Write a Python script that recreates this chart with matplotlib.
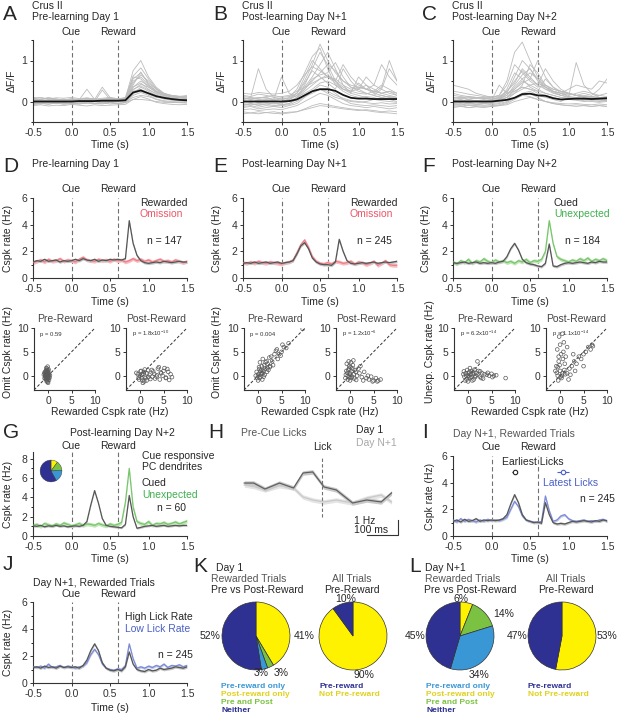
import numpy as np
import matplotlib
matplotlib.use("Agg")
import matplotlib.pyplot as plt

plt.rcParams['font.family'] = ['Liberation Sans', 'DejaVu Sans']
plt.rcParams['mathtext.default'] = 'regular'
plt.rcParams['axes.unicode_minus'] = False

# ======================= DATA =======================
time_ticks = [-0.5, 0.0, 0.5, 1.0, 1.5]
time_ticklabels = ['-0.5', '0.0', '0.5', '1.0', '1.5']
event_times = [0.0, 0.6]
event_names = ['Cue', 'Reward']

t_dff = np.arange(21) * 0.1 - 0.5      # 100 ms samples
t_cspk = np.arange(41) * 0.05 - 0.5    # 50 ms bins

# --- A: Crus II, pre-learning day 1 (dF/F of individual dendrites + mean)
dff_A_traces = [
    [0.05,0.02,0.00,0.03,0.01,0.00,0.02,0.01,0.03,0.02,0.00,0.01,0.05,0.55,0.70,0.45,0.30,0.20,0.15,0.12,0.10],
    [-0.05,-0.03,0.00,-0.02,0.01,-0.03,0.00,-0.02,0.00,-0.01,0.02,0.00,0.03,0.35,0.45,0.30,0.18,0.12,0.08,0.05,0.04],
    [0.10,0.08,0.05,0.06,0.03,0.05,0.04,0.30,0.05,0.03,0.06,0.04,0.08,0.75,1.00,0.60,0.35,0.20,0.12,0.10,0.08],
    [0.00,0.03,-0.02,0.00,0.02,0.00,-0.01,0.02,0.00,0.28,0.05,0.02,0.02,0.25,0.30,0.20,0.12,0.06,0.03,0.02,0.01],
    [-0.08,-0.05,-0.06,-0.04,-0.07,-0.05,-0.06,-0.04,-0.05,-0.06,-0.03,-0.05,-0.02,0.10,0.15,0.12,0.05,0.00,-0.02,-0.03,-0.04],
    [0.03,0.05,0.08,0.04,0.06,0.03,0.05,0.07,0.04,0.06,0.08,0.05,0.10,0.60,0.55,0.35,0.22,0.15,0.12,0.10,0.08],
    [-0.02,0.00,0.02,0.00,-0.02,0.01,0.00,-0.01,0.02,0.00,-0.02,0.00,0.02,0.45,0.65,0.50,0.30,0.18,0.10,0.06,0.05],
    [0.06,0.04,0.02,0.05,0.03,0.06,0.04,0.02,0.05,0.35,0.10,0.04,0.05,0.20,0.25,0.18,0.10,0.08,0.07,0.05,0.06],
    [-0.04,-0.06,-0.02,-0.05,-0.03,-0.06,-0.04,-0.02,-0.05,-0.03,-0.06,-0.04,-0.03,0.05,0.05,0.03,0.00,-0.02,-0.03,-0.02,-0.03],
    [0.02,-0.01,0.03,0.01,0.04,0.02,0.00,0.03,0.01,0.02,0.04,0.02,0.04,0.40,0.72,0.42,0.25,0.16,0.12,0.10,0.12],
    [0.08,0.05,0.10,0.06,0.04,0.07,0.05,0.08,0.06,0.04,0.07,0.06,0.08,0.30,0.38,0.28,0.20,0.15,0.14,0.12,0.15],
    [-0.06,-0.04,-0.07,-0.03,-0.05,-0.04,-0.06,-0.03,-0.05,-0.04,-0.02,-0.05,-0.03,0.15,0.22,0.15,0.06,0.02,0.00,-0.01,0.00],
    [0.00,0.02,0.00,0.01,-0.01,0.02,0.01,0.00,0.02,0.01,0.00,0.02,0.06,0.50,0.60,0.40,0.25,0.14,0.08,0.06,0.05],
    [0.04,0.01,0.04,0.02,0.05,0.01,0.03,0.05,0.02,0.04,0.01,0.03,0.04,0.28,0.42,0.35,0.24,0.18,0.12,0.09,0.07],
    [0.07,0.10,0.06,0.09,0.08,0.10,0.07,0.09,0.06,0.08,0.10,0.07,0.09,0.35,0.50,0.38,0.26,0.19,0.15,0.13,0.12],
    [-0.10,-0.08,-0.11,-0.09,-0.10,-0.07,-0.09,-0.11,-0.08,-0.10,-0.09,-0.08,-0.07,0.05,0.12,0.06,-0.02,-0.05,-0.07,-0.08,-0.07],
    [0.01,0.04,0.02,0.06,0.03,0.05,0.02,0.04,0.06,0.03,0.05,0.04,0.07,0.62,0.82,0.55,0.32,0.20,0.13,0.09,0.07],
    [-0.03,-0.01,-0.04,-0.02,-0.03,0.00,-0.02,-0.04,-0.01,-0.03,-0.02,-0.01,0.00,0.18,0.35,0.25,0.15,0.09,0.05,0.03,0.02],
]
dff_A_mean = [0.00,0.00,0.00,0.00,0.00,0.00,0.01,0.01,0.01,0.02,0.02,0.02,0.03,0.22,0.27,0.20,0.13,0.09,0.06,0.04,0.03]

# --- B: Crus II, post-learning day N+1
dff_B_traces = [
    [0.05,0.10,0.80,0.30,0.10,0.05,0.08,0.20,0.50,0.90,1.40,1.00,0.70,0.50,0.40,0.35,0.30,0.40,0.90,0.60,0.40],
    [-0.10,-0.05,-0.08,-0.06,-0.10,-0.08,-0.05,0.10,0.40,0.80,1.20,0.90,0.50,0.30,0.20,0.15,0.10,0.05,0.10,0.05,0.00],
    [0.10,0.05,0.08,0.10,0.05,0.60,0.20,0.10,0.30,0.50,0.70,0.90,0.75,0.50,0.35,0.30,0.40,0.30,0.20,0.25,0.15],
    [-0.25,-0.28,-0.25,-0.27,-0.25,-0.28,-0.26,-0.25,-0.20,-0.15,-0.10,-0.12,-0.15,-0.18,-0.20,-0.22,-0.20,-0.22,-0.25,-0.23,-0.25],
    [0.00,-0.02,0.02,0.00,0.03,0.00,0.05,0.20,0.60,1.00,0.80,0.60,0.50,0.90,0.60,0.40,0.30,0.25,0.20,0.15,0.10],
    [0.15,0.12,0.18,0.15,0.10,0.12,0.15,0.25,0.35,0.45,0.55,0.60,0.45,0.30,0.25,0.30,0.60,0.40,0.30,0.80,0.50],
    [-0.15,-0.12,-0.18,-0.15,-0.12,-0.15,-0.10,-0.05,0.10,0.25,0.40,0.35,0.20,0.05,-0.05,-0.08,-0.10,-0.08,-0.10,-0.12,-0.10],
    [0.05,0.08,0.05,0.02,0.06,0.04,0.10,0.30,0.70,1.10,1.30,0.80,0.40,0.25,0.15,0.10,0.12,0.10,0.15,0.10,0.08],
    [-0.05,-0.08,-0.05,-0.03,-0.06,-0.04,0.00,0.10,0.20,0.30,0.45,0.50,0.40,0.30,0.25,0.45,0.30,0.20,0.35,1.00,0.50],
    [0.08,0.05,0.10,0.08,0.05,0.08,0.05,0.15,0.30,0.55,0.65,0.70,0.95,0.60,0.35,0.25,0.20,0.15,0.10,0.12,0.10],
    [-0.20,-0.18,-0.22,-0.20,-0.18,-0.20,-0.15,-0.10,0.00,0.10,0.20,0.15,0.05,-0.05,-0.10,-0.12,-0.15,-0.12,-0.15,-0.18,-0.15],
    [0.02,0.00,0.03,0.05,0.02,0.00,0.05,0.15,0.35,0.60,0.90,1.20,0.80,0.40,0.20,0.60,0.40,0.20,0.15,0.10,0.05],
    [-0.08,-0.05,-0.10,-0.06,-0.04,-0.08,-0.05,0.05,0.15,0.25,0.30,0.20,0.10,0.05,0.00,-0.02,0.00,0.05,0.02,0.00,-0.02],
    [0.12,0.10,0.08,0.12,0.15,0.10,0.12,0.20,0.45,0.75,0.60,0.45,0.30,0.80,0.50,0.30,0.20,0.15,0.30,0.20,0.15],
    [-0.30,-0.28,-0.30,-0.27,-0.29,-0.30,-0.28,-0.25,-0.18,-0.10,-0.05,-0.08,-0.12,-0.15,-0.18,-0.20,-0.22,-0.25,-0.27,-0.28,-0.30],
    [0.20,0.18,0.22,0.20,0.18,0.20,0.25,0.40,0.65,0.85,0.75,0.60,0.55,0.40,0.30,0.35,0.30,0.25,0.20,0.25,0.20],
    [-0.02,0.02,-0.03,0.00,0.02,-0.02,0.02,0.08,0.25,0.40,0.55,0.65,0.50,0.35,0.25,0.20,0.18,0.25,0.40,0.30,0.20],
    [-0.12,-0.10,-0.14,-0.10,-0.12,-0.10,-0.08,0.00,0.12,0.20,0.30,0.25,0.15,0.08,0.02,0.00,-0.03,-0.05,-0.03,-0.06,-0.05],
]
dff_B_mean = [0.00,0.00,0.00,0.00,0.00,0.00,0.01,0.05,0.15,0.25,0.30,0.30,0.26,0.16,0.09,0.07,0.07,0.06,0.06,0.06,0.06]

# --- C: Crus II, post-learning day N+2
dff_C_traces = [
    [0.40,0.35,0.30,0.20,0.15,0.10,0.15,0.50,1.20,1.45,1.00,0.60,0.40,0.30,0.25,0.20,0.15,0.12,0.10,0.10,0.08],
    [0.00,-0.02,0.02,0.00,-0.03,0.00,0.05,0.20,0.60,1.00,0.80,0.50,0.30,0.20,0.15,0.20,0.15,0.10,0.08,0.05,0.05],
    [-0.05,-0.08,-0.05,-0.07,-0.05,-0.08,-0.05,0.00,0.10,0.20,0.25,0.15,0.10,0.05,0.00,0.10,0.95,0.40,0.20,0.10,0.05],
    [0.10,0.08,0.12,0.10,0.08,0.10,0.15,0.40,0.90,0.70,0.50,0.35,0.40,0.30,0.25,0.20,0.15,0.20,0.15,0.30,0.55],
    [-0.12,-0.10,-0.15,-0.12,-0.10,-0.12,-0.10,-0.05,0.05,0.15,0.20,0.10,0.00,-0.05,-0.08,-0.10,-0.08,-0.10,-0.12,-0.10,-0.12],
    [0.05,0.08,0.05,0.10,0.08,0.05,0.10,0.25,0.45,0.80,0.60,0.40,0.80,0.50,0.30,0.20,0.15,0.10,0.12,0.10,0.08],
    [0.20,0.15,0.12,0.10,0.08,0.05,0.08,0.15,0.35,0.55,0.70,0.55,0.35,0.25,0.20,0.15,0.20,0.25,0.20,0.15,0.20],
    [-0.02,0.00,-0.03,0.00,0.02,0.00,0.02,0.10,0.30,0.50,0.40,0.30,0.20,0.15,0.10,0.08,0.06,0.05,0.08,0.05,0.03],
    [0.02,0.05,0.00,0.03,0.00,0.02,0.40,0.20,0.25,0.35,0.30,0.20,0.15,0.10,0.05,0.05,0.03,0.00,0.02,0.00,0.02],
    [-0.08,-0.05,-0.10,-0.08,-0.06,-0.05,-0.03,0.05,0.20,0.40,0.90,0.70,0.40,0.25,0.15,0.10,0.05,0.02,0.00,-0.02,0.00],
    [0.08,0.10,0.06,0.08,0.05,0.08,0.06,0.10,0.20,0.30,0.40,0.45,0.35,0.25,0.20,0.30,0.40,0.35,0.30,0.50,0.45],
    [-0.15,-0.12,-0.15,-0.13,-0.15,-0.12,-0.10,-0.08,0.00,0.05,0.10,0.05,0.00,-0.05,-0.08,-0.10,-0.12,-0.10,-0.12,-0.10,-0.12],
    [0.03,0.00,0.05,0.02,0.00,0.03,0.05,0.30,0.70,0.55,0.35,0.25,0.20,0.15,0.10,0.08,0.10,0.08,0.06,0.05,0.04],
    [0.15,0.12,0.10,0.08,0.10,0.12,0.10,0.20,0.30,0.45,0.55,1.00,0.60,0.35,0.25,0.20,0.15,0.12,0.10,0.08,0.10],
    [-0.10,-0.12,-0.08,-0.10,-0.12,-0.10,-0.08,-0.02,0.08,0.15,0.12,0.05,0.00,-0.03,-0.05,-0.06,-0.05,-0.07,-0.08,-0.06,-0.08],
    [0.25,0.22,0.18,0.15,0.12,0.10,0.12,0.25,0.50,0.75,0.55,0.40,0.30,0.25,0.20,0.18,0.15,0.15,0.12,0.15,0.12],
    [0.00,0.03,-0.02,0.02,0.00,0.02,0.05,0.15,0.40,0.65,0.80,0.55,0.35,0.22,0.15,0.12,0.10,0.12,0.10,0.08,0.06],
    [-0.05,-0.03,-0.06,-0.04,-0.05,-0.03,0.00,0.10,0.25,0.35,0.30,0.25,0.55,0.35,0.20,0.12,0.08,0.05,0.04,0.03,0.02],
]
dff_C_mean = [0.00,0.00,0.00,0.00,0.00,0.00,0.02,0.04,0.09,0.18,0.19,0.15,0.14,0.08,0.05,0.06,0.07,0.07,0.06,0.07,0.08]

# --- Cspk rates (Hz), 50 ms bins
D_rewarded = [1.20,1.30,1.25,1.40,1.25,1.30,1.35,1.20,1.30,1.25,
              1.30,1.40,1.30,1.45,1.35,1.30,1.40,1.25,1.35,1.30,
              1.40,1.35,1.40,1.35,1.45,4.30,2.60,1.70,1.30,1.15,
              1.10,1.15,1.20,1.15,1.25,1.20,1.15,1.20,1.25,1.20,1.20]
D_omission = [1.15,1.25,1.35,1.20,1.40,1.25,1.30,1.45,1.25,1.35,
              1.30,1.20,1.40,1.55,1.35,1.30,1.25,1.40,1.30,1.35,
              1.25,1.40,1.30,1.35,1.20,1.30,1.45,1.30,1.40,1.25,
              1.35,1.20,1.30,1.40,1.25,1.30,1.20,1.35,1.25,1.15,1.25]
E_rewarded = [1.10,1.15,1.10,1.20,1.10,1.15,1.20,1.10,1.15,1.20,
              1.10,1.15,1.20,1.30,1.80,2.40,2.65,2.20,1.50,1.20,
              1.05,1.00,1.00,0.95,1.20,2.90,2.00,1.30,1.10,1.05,
              1.10,1.15,1.10,1.15,1.20,1.10,1.15,1.20,1.15,1.20,1.25]
E_omission = [1.15,1.10,1.20,1.10,1.25,1.15,1.10,1.20,1.15,1.10,
              1.05,1.15,1.20,1.35,1.90,2.50,2.85,2.30,1.60,1.25,
              1.10,1.05,1.15,1.05,1.25,1.20,1.10,1.15,1.25,1.05,
              1.20,1.15,1.00,1.10,1.25,0.95,1.10,1.30,1.00,0.95,0.95]
F_cued = [1.15,1.10,1.15,1.20,1.10,1.15,1.20,1.10,1.15,1.10,
          1.15,1.10,1.20,1.25,1.60,2.20,2.60,2.10,1.40,1.15,
          1.05,1.00,0.90,0.85,1.10,2.55,0.90,0.85,1.00,1.10,
          1.15,1.10,1.15,1.20,1.15,1.10,1.20,1.15,1.25,1.20,1.20]
F_unexpected = [1.20,1.05,1.30,1.15,1.40,1.10,1.30,1.20,1.45,1.25,
                1.15,1.35,1.20,1.30,1.15,1.25,1.10,1.30,1.20,1.40,
                1.15,1.30,1.25,1.40,2.00,4.30,2.60,1.60,1.40,1.30,
                1.20,1.35,1.25,1.45,1.30,1.50,1.25,1.40,1.30,1.45,1.30]
G_cued = [1.05,1.00,1.10,0.95,1.05,1.00,1.10,1.00,1.05,0.95,
          1.00,1.05,1.00,1.10,1.50,3.20,4.70,3.40,1.80,1.10,
          1.00,0.95,0.90,0.85,1.20,4.20,2.00,0.80,0.90,1.00,
          1.05,1.10,1.00,1.05,1.10,1.00,1.05,1.10,1.05,1.10,1.10]
G_unexpected = [1.10,1.20,1.00,1.30,1.15,1.05,1.25,1.10,1.35,1.20,
                1.05,1.15,1.30,1.10,1.25,1.20,1.10,1.30,1.15,1.05,
                1.25,1.10,1.20,1.40,3.50,7.00,3.00,1.50,1.30,1.20,
                1.50,1.10,1.30,1.25,1.40,1.20,1.30,1.45,1.25,1.40,1.55]
I_earliest = [1.10,1.20,1.05,1.25,1.10,1.15,1.30,1.10,1.20,1.15,
              1.20,1.15,1.20,1.30,1.60,2.40,3.10,2.50,1.60,1.20,
              1.10,1.00,1.05,0.95,2.50,1.60,1.00,0.90,0.95,0.90,
              1.00,1.10,1.05,1.10,1.15,1.10,1.05,1.15,1.10,1.20,1.15]
I_latest = [1.20,1.05,1.30,1.10,1.25,1.15,1.05,1.20,1.10,1.25,
            1.15,1.20,1.15,1.25,1.40,2.00,2.60,2.20,1.50,1.20,
            1.10,1.05,1.00,1.10,3.00,1.90,1.10,1.20,1.50,1.60,
            1.30,1.15,1.10,1.15,1.20,1.10,1.15,1.10,1.20,1.25,1.10]
J_high_lick = [1.15,1.20,1.10,1.25,1.15,1.20,1.10,1.25,1.15,1.20,
               1.15,1.20,1.10,1.30,1.70,2.40,2.90,2.40,1.50,1.10,
               0.95,0.90,1.00,0.90,1.20,2.30,1.40,1.00,0.90,0.85,
               1.00,0.90,0.95,1.10,1.00,1.05,1.10,1.20,1.15,1.10,1.20]
J_low_lick = [1.20,1.15,1.25,1.10,1.40,1.15,1.20,1.30,1.15,1.25,
              1.20,1.10,1.20,1.25,1.50,2.10,2.50,2.10,1.40,1.10,
              1.00,0.95,1.05,1.00,1.30,2.90,1.80,1.10,1.20,1.10,
              1.25,1.15,1.30,1.20,1.40,1.15,1.30,1.25,1.35,1.20,1.30]
sem_gray = 0.10
sem_color = 0.14

# --- I: mean lick times (s) +- spread
lick_earliest, lick_earliest_err = 0.30, 0.03
lick_latest, lick_latest_err = 0.93, 0.08
lick_marker_rate = 4.8

# --- H: pre-cue licks, lick-triggered Cspk rate (ms, Hz)
h_time_ms = [-248, -218, -182, -136, -91, -61, -30, 6, 45, 97, 142, 188, 221]
h_day1 = [3.53, 3.53, 3.13, 3.53, 3.20, 4.20, 4.27, 3.27, 3.07, 2.20, 2.40, 2.27, 2.87]
h_dayN1 = [3.40, 3.30, 3.07, 3.35, 3.20, 2.60, 2.40, 2.27, 2.40, 2.20, 2.53, 2.73, 2.27]
h_sem = 0.15
scale_hz = 1.0
scale_ms = 100

# --- scatter points (Rewarded rate, Omitted/Unexpected rate), Hz
sc_A_pre = [(-0.5,0.0),(-0.2,0.5),(0.0,-0.3),(-0.4,1.0),(-0.1,-0.8),(-0.6,0.3),(0.2,0.2),(-0.3,-1.2),(-0.8,0.6),(0.1,-0.5),
            (-0.2,1.5),(-0.5,-0.2),(0.0,0.8),(-0.3,0.1),(-0.7,-0.6),(0.3,-0.4),(-0.1,1.9),(-0.4,0.4),(-0.2,-1.0),(0.1,0.6),
            (-0.6,-0.1),(-0.3,1.2),(0.0,-1.5),(-0.5,0.7),(-0.1,0.2),(-0.4,-0.7),(0.2,-0.9),(-0.2,0.0),(-0.9,0.2),(0.0,1.1),
            (-0.3,-0.4),(-0.6,0.9),(0.1,0.3),(-0.2,-0.3),(-0.4,1.6),(0.4,0.1),(-0.1,-1.3),(-0.5,0.5),(-0.3,0.3),(0.0,-0.1),
            (-0.2,0.8),(-0.7,-0.5),(0.1,1.3),(-0.4,0.0),(-0.1,-0.2)]
sc_A_post = [(0.0,0.0),(0.3,-0.5),(-0.5,0.3),(0.8,0.8),(1.0,-0.2),(0.5,-1.0),(-0.2,-0.8),(1.5,0.5),(0.2,1.0),(1.2,-0.5),
             (2.0,0.2),(0.6,-1.5),(-0.8,0.6),(1.8,-0.3),(2.5,1.2),(3.0,0.4),(0.4,0.2),(1.0,1.3),(3.5,-0.2),(4.0,1.8),
             (2.2,-0.7),(4.5,0.5),(5.0,1.0),(5.5,-0.5),(6.0,0.8),(6.5,0.3),(4.2,-0.8),(3.8,1.5),(5.2,1.6),(6.8,-0.3),
             (2.8,0.9),(1.4,-1.0),(0.9,-1.2),(-0.3,-0.4),(0.1,0.9),(3.2,-0.6),(4.8,0.0),(5.8,1.4),(6.2,-0.9),(2.6,-0.2),
             (1.7,1.1),(0.7,0.4),(4.4,0.7),(3.6,0.1),(5.5,-0.4)]
sc_E_pre = [(0.0,0.0),(0.5,1.0),(1.0,0.5),(0.3,-0.5),(0.8,2.0),(1.5,1.5),(-0.3,0.8),(0.2,1.8),(1.2,-0.2),(2.0,2.5),
            (0.6,0.3),(1.8,3.0),(2.5,1.8),(0.0,-1.0),(0.4,2.8),(1.0,3.5),(3.0,3.0),(2.2,1.2),(0.7,1.2),(1.4,0.2),
            (3.5,4.5),(2.8,4.0),(4.0,5.5),(4.5,4.5),(5.0,5.0),(3.2,2.2),(1.6,2.8),(0.9,-0.8),(0.1,0.4),(-0.5,0.0),
            (2.4,3.8),(4.2,3.5),(5.5,6.0),(6.0,5.8),(9.5,9.8),(5.2,6.5),(3.8,5.2),(1.1,1.0),(0.5,-0.3),(2.6,2.0),
            (1.9,0.8),(0.3,1.4),(1.3,2.2),(6.5,6.8),(4.8,4.2),(0.8,0.5),(2.0,1.6),(-0.2,-0.5)]
sc_E_post = [(-0.5,0.0),(0.0,0.5),(-0.8,1.0),(0.3,-0.5),(-0.2,2.0),(0.5,1.5),(-1.0,-0.5),(0.2,2.8),(-0.4,1.2),(0.8,0.3),
             (0.0,-1.0),(-0.6,0.6),(1.2,0.8),(0.4,-0.2),(-0.3,3.0),(0.6,2.2),(1.5,0.0),(-0.9,0.2),(0.1,1.8),(0.9,-0.6),
             (2.0,0.5),(2.5,-0.3),(3.0,0.8),(1.8,1.5),(3.5,-0.5),(4.0,-0.8),(4.5,-0.2),(5.0,-1.0),(5.5,-0.5),(6.0,-1.0),
             (6.5,-0.8),(4.8,-1.2),(3.8,0.0),(2.8,-1.0),(0.7,3.2),(-0.7,2.5),(1.0,1.2),(-0.1,-0.3),(0.3,0.9),(-0.5,-0.8),
             (1.3,-0.9),(2.2,2.0),(0.0,0.2),(-0.2,1.5),(5.8,-1.2)]
sc_F_pre = [(0.0,0.0),(-0.5,0.5),(0.5,-0.5),(1.0,0.3),(-0.8,-0.2),(0.3,0.8),(1.5,-0.3),(-0.3,-0.8),(0.8,1.0),(2.0,0.2),
            (-1.0,0.3),(0.2,-0.3),(1.2,-0.8),(0.6,0.4),(-0.2,1.2),(1.8,0.6),(2.5,-0.2),(3.0,0.5),(2.8,-0.5),(3.5,0.3),
            (4.0,0.2),(4.5,0.0),(5.0,0.4),(5.5,0.0),(6.0,0.1),(8.0,-0.5),(2.0,3.0),(0.4,1.6),(-0.6,-1.0),(1.4,1.3),
            (0.9,-1.0),(2.2,1.0),(-0.4,0.0),(0.1,0.6),(1.6,0.0),(0.7,-0.2),(3.2,-0.6),(2.6,0.9),(-0.9,0.9),(0.0,-1.2),
            (1.1,0.7),(4.2,0.6),(5.2,-0.3)]
sc_F_post = [(-0.5,0.0),(0.0,1.0),(-0.8,2.0),(0.5,0.5),(-0.3,3.0),(0.2,4.5),(-0.6,5.5),(0.0,6.5),(-0.2,8.2),(0.5,8.8),
             (0.8,7.0),(-1.0,1.0),(1.0,2.5),(0.3,-0.5),(-0.4,-1.0),(1.5,0.5),(2.0,1.5),(0.6,3.5),(-0.1,2.2),(1.2,4.0),
             (2.5,2.0),(3.0,3.0),(3.5,2.5),(4.0,4.0),(5.0,4.5),(5.5,5.0),(6.0,6.0),(6.5,5.5),(7.0,6.2),(5.0,2.0),
             (4.5,3.5),(0.4,0.0),(-0.7,0.6),(1.8,-0.8),(0.9,1.2),(2.2,0.2),(-0.3,4.0),(0.7,5.0),(1.5,6.0),(3.2,1.0),
             (0.1,-0.2),(-0.5,1.8),(1.1,0.3),(6.8,6.5),(2.8,4.5)]
p_texts = ['p = 0.59', 'p = 1.8x10$^{-10}$', 'p = 0.004', 'p = 1.2x10$^{-6}$',
           'p = 6.2x10$^{-14}$', 'p = 1.1x10$^{-14}$']

# --- pies: order = Post-reward only, Pre and Post, Pre-reward only, Neither
G_inset_frac = [10, 14, 18, 58]
K_rewarded_pct = [41, 3, 3, 52]
K_all_pct = [90, 10]            # Not Pre-reward, Pre-reward
L_rewarded_pct = [6, 14, 34, 45]
L_all_pct = [53, 47]

# ======================= STYLE =======================
W, H = 617, 716
FS = 7.5
TXT = '#262626'
DASH = (0, (4, 2.5))
C_GRAY, B_GRAY = '#555555', '#c4c4c4'
C_PINK, B_PINK, T_PINK = '#ee7c86', '#f7bcc0', '#ec5566'
C_GRN, B_GRN, T_GRN = '#77c66c', '#c2e6b8', '#3fb04e'
C_BLU, B_BLU, T_BLU = '#7b8bd6', '#c3cbef', '#4a60c4'
P_YEL, P_GRN, P_BLU, P_NAV = '#fff200', '#7cc242', '#3a97d6', '#2e3192'
pie4_colors = [P_YEL, P_GRN, P_BLU, P_NAV]
pie2_colors = [P_YEL, P_NAV]

fig = plt.figure(figsize=(W / 100, H / 100), dpi=100)


def pax(l, t, r, b):
    return fig.add_axes([l / W, 1 - b / H, (r - l) / W, (b - t) / H])


def ftext(x, y, s, **kw):
    kw.setdefault('fontsize', FS)
    kw.setdefault('va', 'center')
    kw.setdefault('color', TXT)
    return fig.text(x / W, 1 - y / H, s, **kw)


def style(ax):
    for s in ['top', 'right']:
        ax.spines[s].set_visible(False)
    for s in ['left', 'bottom']:
        ax.spines[s].set_linewidth(0.8)
        ax.spines[s].set_color('#333333')
    ax.tick_params(length=2.5, width=0.7, pad=1.5, labelsize=FS, colors='#333333')
    ax.tick_params(which='minor', length=1.5, width=0.6)


def time_axes(l, t, r, b, ylim, yticks, yminor, label_off=8):
    ax = pax(l, t, r, b)
    ax.set_xlim(-0.5, 1.5)
    ax.set_ylim(*ylim)
    ax.set_xticks(time_ticks)
    ax.set_xticklabels(time_ticklabels)
    ax.set_yticks(yticks)
    ax.set_yticks(yminor, minor=True)
    for x, s in zip(event_times, event_names):
        ax.axvline(x, color='#707070', lw=0.8, ls=DASH, zorder=1)
        ax.annotate(s, xy=(x, 1), xycoords=('data', 'axes fraction'), xytext=(0, label_off),
                    textcoords='offset pixels', ha='center', va='center', fontsize=FS, color=TXT)
    style(ax)
    return ax


def band(ax, y, sem, lc, bc, lw=0.9):
    y = np.asarray(y)
    ax.fill_between(t_cspk, y - sem, y + sem, color=bc, lw=0, zorder=2)
    ax.plot(t_cspk, y, color=lc, lw=lw, zorder=3)


col_left = [33, 243, 453]
col_w = 154
letter_x = [3, 213, 422]

# ---------------- Row 1: A, B, C ----------------
row1_titles = ['Pre-learning Day 1', 'Post-learning Day N+1', 'Post-learning Day N+2']
row1_data = [(dff_A_traces, dff_A_mean), (dff_B_traces, dff_B_mean), (dff_C_traces, dff_C_mean)]
ylab1_x = [12, 222, 432]
for k, (traces, mean) in enumerate(row1_data):
    l = col_left[k]
    ax = time_axes(l, 40, l + col_w, 122, (-0.5, 1.5), [0, 1], [-0.5, 0.5, 1.5])
    for tr in traces:
        ax.plot(t_dff, tr, color='#bcbcbc', lw=0.6, zorder=2)
    ax.plot(t_dff, mean, color='#151515', lw=1.3, zorder=4)
    ftext(letter_x[k], 15, 'ABC'[k], fontsize=15, ha='left')
    ftext(l - 1, 6, 'Crus II', ha='left')
    ftext(l - 1, 17, row1_titles[k], ha='left')
    ftext(l + col_w / 2, 145, 'Time (s)', ha='center')
    ftext(ylab1_x[k], 81, 'ΔF/F', ha='center', rotation=90)

# ---------------- Row 2: D, E, F ----------------
row2_series = [
    [(D_omission, sem_color, C_PINK, B_PINK), (D_rewarded, sem_gray, C_GRAY, B_GRAY)],
    [(E_omission, sem_color, C_PINK, B_PINK), (E_rewarded, sem_gray, C_GRAY, B_GRAY)],
    [(F_unexpected, sem_color, C_GRN, B_GRN), (F_cued, sem_gray, C_GRAY, B_GRAY)],
]
row2_leg = [('Rewarded', 'Omission', T_PINK, 'n = 147'),
            ('Rewarded', 'Omission', T_PINK, 'n = 245'),
            ('Cued', 'Unexpected', T_GRN, 'n = 184')]
row2_leg_x = [140, 350, 554]
ylab2_x = [8, 217, 426]
for k in range(3):
    l = col_left[k]
    ax = time_axes(l, 198, l + col_w, 278, (0, 6), [0, 2, 4, 6], [1, 3, 5], label_off=9)
    for s in row2_series[k]:
        band(ax, *s)
    ftext(letter_x[k], 166, 'DEF'[k], fontsize=15, ha='left')
    ftext(l - 1, 164, row1_titles[k], ha='left')
    ftext(l + col_w / 2, 302, 'Time (s)', ha='center')
    ftext(ylab2_x[k], 238, 'Cspk rate (Hz)', ha='center', rotation=90)
    a, b, c, n = row2_leg[k]
    ftext(row2_leg_x[k], 203, a, ha='left')
    ftext(row2_leg_x[k], 214, b, ha='left', color=c)
    ftext(row2_leg_x[k] + 7 + (4 if k == 2 else 0), 241, n, ha='left')

# ---------------- Row 3: scatters ----------------
sc_sets = [(sc_A_pre, sc_A_post), (sc_E_pre, sc_E_post), (sc_F_pre, sc_F_post)]
sc_ylabels = ['Omit Cspk rate (Hz)', 'Omit Cspk rate (Hz)', 'Unexp. Cspk rate (Hz)']
sc_ylab_x = [8, 217, 430]
pi = 0
for k in range(3):
    l = col_left[k] + 1
    for j, pts in enumerate(sc_sets[k]):
        x0 = l + j * 92
        ax = pax(x0, 328, x0 + 61, 390)
        xs, ys = zip(*pts)
        ax.axline((0, 0), slope=1, ls=(0, (3, 2)), color='#333333', lw=0.7, zorder=1)
        ax.scatter(xs, ys, s=7, facecolors='none', edgecolors='#5a5a5a', linewidths=0.5, zorder=2)
        ax.set_xlim(-3, 10)
        ax.set_ylim(-3, 10)
        ax.set_xticks([0, 5, 10])
        ax.set_yticks([0, 5, 10])
        style(ax)
        ax.text(0.1, 0.9, p_texts[pi], transform=ax.transAxes, fontsize=4.3, color='#333333',
                va='center', ha='left')
        pi += 1
        ftext(x0 + 30.5, 319, ['Pre-Reward', 'Post-Reward'][j], ha='center', color='#444444')
    ftext(col_left[k] + col_w / 2, 412, 'Rewarded Cspk rate (Hz)', ha='center')
    ftext(sc_ylab_x[k], 352, sc_ylabels[k], ha='center', rotation=90)

# ---------------- Row 4: G ----------------
axG = time_axes(33, 452, 33 + col_w, 536, (0, 8.7), [2, 4, 6, 8], [1, 3, 5, 7], label_off=6)
axG.set_yticks([0, 2, 4, 6, 8])
band(axG, G_unexpected, 0.2, C_GRN, B_GRN)
band(axG, G_cued, sem_gray, C_GRAY, B_GRAY)
ftext(3, 432, 'G', fontsize=15, ha='left')
ftext(70, 433, 'Post-learning Day N+2', ha='left')
ftext(110, 559, 'Time (s)', ha='center')
ftext(8, 494, 'Cspk rate (Hz)', ha='center', rotation=90)
ftext(142, 456, 'Cue responsive', ha='left')
ftext(142, 467, 'PC dendrites', ha='left')
ftext(142, 483, 'Cued', ha='left')
ftext(142, 495, 'Unexpected', ha='left', color=T_GRN)
ftext(157, 508, 'n = 60', ha='left')
axGi = pax(39, 459, 63, 483)
axGi.pie(G_inset_frac, colors=pie4_colors, startangle=90, counterclock=False,
         wedgeprops=dict(edgecolor='#333333', linewidth=0.3))
axGi.set_xlim(-1.1, 1.1)
axGi.set_ylim(-1.1, 1.1)
axGi.axis('off')

# ---------------- Row 4: H ----------------
axH = pax(243, 445, 400, 540)
axH.set_xlim(-252, 248)
axH.set_ylim((536 - 540) / 15, (536 - 445) / 15)
axH.axis('off')
h_t = np.asarray(h_time_ms)
for vals, lc, bc in [(h_dayN1, '#c9c9c9', '#e4e4e4'), (h_day1, '#5f5f5f', '#c8c8c8')]:
    v = np.asarray(vals)
    axH.fill_between(h_t, v - h_sem, v + h_sem, color=bc, lw=0)
    axH.plot(h_t, v, color=lc, lw=0.9)
axH.plot([0, 0], [1.27, 5.2], ls=(0, (3, 2)), color='#707070', lw=0.8)
axH.annotate('Lick', xy=(0, 5.2), xytext=(0, 11), textcoords='offset pixels',
             ha='center', va='center', fontsize=FS, color=TXT, annotation_clip=False)
bar_x, bar_y = 243, 0.07
axH.plot([bar_x - scale_ms, bar_x, bar_x], [bar_y, bar_y, bar_y + scale_hz], color='#333333', lw=0.8,
         clip_on=False)
axH.text(bar_x - scale_ms - 40, bar_y + 0.95, '1 Hz', fontsize=FS, va='center', ha='left', color=TXT)
axH.text(bar_x - scale_ms - 40, bar_y + 0.33, '100 ms', fontsize=FS, va='center', ha='left', color=TXT)
ftext(208, 432, 'H', fontsize=15, ha='left')
ftext(241, 433, 'Pre-Cue Licks', ha='left', color='#555555')
ftext(356, 430, 'Day 1', ha='left')
ftext(356, 443, 'Day N+1', ha='left', color='#a8a8a8')

# ---------------- Row 4: I ----------------
axI = time_axes(453, 456, 453 + col_w, 536, (0, 6), [0, 2, 4, 6], [1, 3, 5], label_off=9)
band(axI, I_latest, sem_gray, C_BLU, B_BLU)
band(axI, I_earliest, sem_gray, C_GRAY, B_GRAY)
axI.errorbar([lick_earliest], [lick_marker_rate], xerr=[lick_earliest_err], fmt='o', ms=3.2,
             mfc='white', mec='#222222', ecolor='#222222', elinewidth=0.8, mew=0.8, capsize=0, zorder=5)
axI.errorbar([lick_latest], [lick_marker_rate], xerr=[lick_latest_err], fmt='o', ms=3.2,
             mfc='white', mec=T_BLU, ecolor=T_BLU, elinewidth=0.8, mew=0.8, capsize=0, zorder=5)
ftext(422, 432, 'I', fontsize=15, ha='left')
ftext(453, 434, 'Day N+1, Rewarded Trials', ha='left', color='#555555')
ftext(533, 462, 'Earliest Licks', ha='center')
ftext(543, 483, 'Latest Licks', ha='left', color=T_BLU)
ftext(580, 499, 'n = 245', ha='left')
ftext(530, 559, 'Time (s)', ha='center')
ftext(430, 496, 'Cspk rate (Hz)', ha='center', rotation=90)

# ---------------- Row 5: J ----------------
axJ = time_axes(33, 602, 33 + col_w, 683, (0, 6), [0, 2, 4, 6], [1, 3, 5], label_off=8)
band(axJ, J_low_lick, sem_gray, C_BLU, B_BLU)
band(axJ, J_high_lick, sem_gray, C_GRAY, B_GRAY)
ftext(3, 565, 'J', fontsize=15, ha='left')
ftext(33, 583, 'Day N+1, Rewarded Trials', ha='left')
ftext(125, 617, 'High Lick Rate', ha='left')
ftext(125, 629, 'Low Lick Rate', ha='left', color=T_BLU)
ftext(158, 655, 'n = 245', ha='left')
ftext(110, 708, 'Time (s)', ha='center')
ftext(8, 642, 'Cspk rate (Hz)', ha='center', rotation=90)


# ---------------- Row 5: K, L pies ----------------
def pie_axes(cx, cy, vals, colors, label_pos, r=34):
    ax = pax(cx - 1.15 * r, cy - 1.15 * r, cx + 1.15 * r, cy + 1.15 * r)
    ax.pie(vals, colors=colors, startangle=90, counterclock=False,
           wedgeprops=dict(edgecolor='#333333', linewidth=0.5))
    ax.set_xlim(-1.15, 1.15)
    ax.set_ylim(-1.15, 1.15)
    ax.axis('off')
    for v, (x, y) in zip(vals, label_pos):
        ax.text(x, y, f'{v}%', ha='center', va='center', fontsize=FS, color=TXT, clip_on=False)
    return ax


pie_axes(256, 636, K_rewarded_pct, pie4_colors, [(1.42, 0.0), (0.74, -1.1), (0.16, -1.1), (-1.36, 0.0)])
pie_axes(353, 636, K_all_pct, pie2_colors, [(0.33, -1.14), (-0.22, 1.08)])
pie_axes(460, 636, L_rewarded_pct, pie4_colors, [(0.02, 1.08), (1.28, 0.64), (0.56, -1.14), (-1.33, 0.0)])
pie_axes(562, 636, L_all_pct, pie2_colors, [(1.33, 0.0), (-1.33, 0.0)])

leg4 = [('Pre-reward only', P_BLU), ('Post-reward only', '#e0d21e'), ('Pre and Post', P_GRN), ('Neither', P_NAV)]
leg2 = [('Pre-reward', P_NAV), ('Not Pre-reward', '#e0d21e')]
leg_y = [687, 695, 703, 711]
for x0, leg in [(221, leg4), (319, leg2), (426, leg4), (528, leg2)]:
    for (s, c), y in zip(leg, leg_y):
        ftext(x0, y, s, ha='left', color=c, fontsize=6.0, fontweight='bold')

ftext(193, 567, 'K', fontsize=15, ha='left')
ftext(216, 568, 'Day 1', ha='left')
ftext(211, 579, 'Rewarded Trials', ha='left', color='#555555')
ftext(211, 590, 'Pre vs Post-Reward', ha='left')
ftext(352, 579, 'All Trials', ha='center', color='#555555')
ftext(352, 590, 'Pre-Reward', ha='center')

ftext(409, 567, 'L', fontsize=15, ha='left')
ftext(425, 568, 'Day N+1', ha='left')
ftext(425, 579, 'Rewarded Trials', ha='left', color='#555555')
ftext(424, 590, 'Pre vs Post-Reward', ha='left')
ftext(566, 579, 'All Trials', ha='center', color='#555555')
ftext(566, 590, 'Pre-Reward', ha='center')

fig.savefig('out.png', dpi=100)
